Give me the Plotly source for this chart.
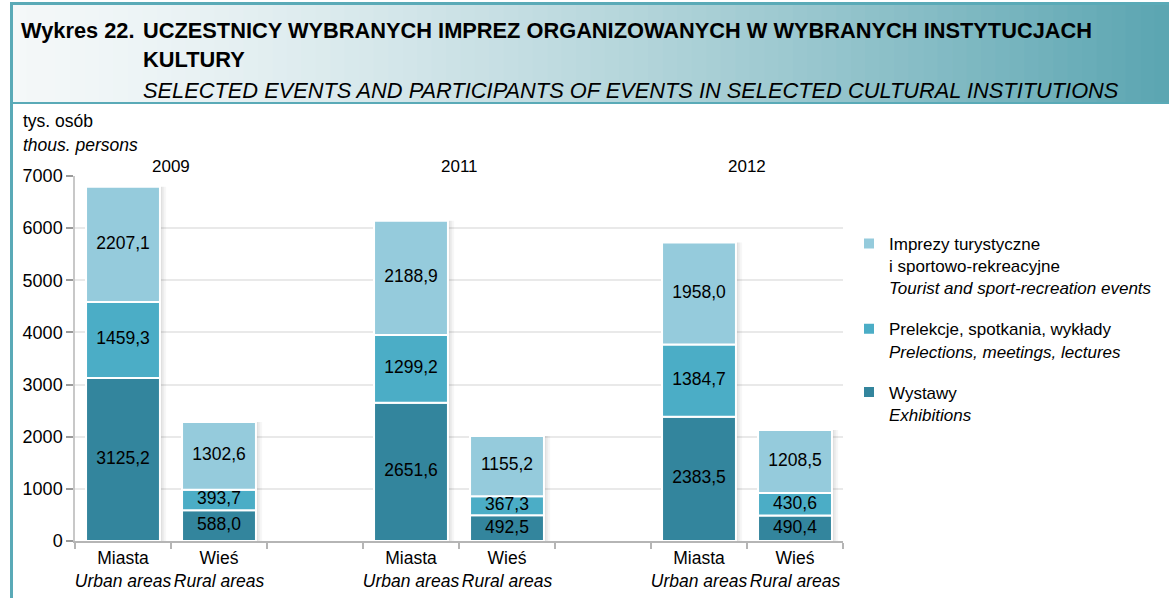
import numpy as np
import plotly.graph_objects as go

# ---- data ----
years = ["2009", "2011", "2012"]
areas = ["Miasta<br><i>Urban areas</i>", "Wieś<br><i>Rural areas</i>"]
wystawy = [3125.2, 588.0, 2651.6, 492.5, 2383.5, 490.4]        # Exhibitions
prelekcje = [1459.3, 393.7, 1299.2, 367.3, 1384.7, 430.6]      # Prelections, meetings, lectures
imprezy = [2207.1, 1302.6, 2188.9, 1155.2, 1958.0, 1208.5]     # Tourist and sport-recreation events
series_names = [
    "Wystawy<br><i>Exhibitions</i>",
    "Prelekcje, spotkania, wykłady<br><i>Prelections, meetings, lectures</i>",
    "Imprezy turystyczne<br>i sportowo-rekreacyjne<br><i>Tourist and sport-recreation events</i>",
]
colors = ["#33859d", "#4badc6", "#95cbdc"]
y_ticks = [0, 1000, 2000, 3000, 4000, 5000, 6000, 7000]

FONT = "Liberation Sans, Arial, Helvetica, sans-serif"

# positions: each year group has 2 bars plus one empty slot
xpos = [3 * g + a for g in range(len(years)) for a in range(len(areas))]
xlabels = [areas[a] for g in range(len(years)) for a in range(len(areas))]

series = [wystawy, prelekcje, imprezy]
arr = np.array(series)
bases = np.vstack([np.zeros(arr.shape[1]), np.cumsum(arr, axis=0)[:-1]])
totals = arr.sum(axis=0)

W = 0.77
fig = go.Figure()

# soft shadows
for k, (dx, alpha) in enumerate([(0.065, 0.03), (0.045, 0.04), (0.025, 0.05)]):
    fig.add_trace(go.Bar(x=xpos, y=totals, base=[0] * len(totals), width=W, offset=-W / 2 + dx,
                         marker=dict(color=f"rgba(0,0,0,{alpha})", line=dict(width=0)),
                         showlegend=False, hoverinfo="skip"))

for i, (vals, name, col) in enumerate(zip(series, series_names, colors)):
    fig.add_trace(go.Bar(x=xpos, y=vals, base=bases[i], width=W, offset=-W / 2, name=name,
                         legendgroup=f"g{i}", legendrank=10 - i,
                         marker=dict(color=col, line=dict(color="white", width=2))))

# value labels
lab_x, lab_y, lab_t = [], [], []
for i, vals in enumerate(series):
    for j, v in enumerate(vals):
        lab_x.append(xpos[j])
        lab_y.append(bases[i][j] + v / 2)
        lab_t.append(f"{v:.1f}".replace(".", ","))
fig.add_trace(go.Scatter(x=lab_x, y=lab_y, text=lab_t, mode="text", showlegend=False,
                         textfont=dict(size=17.5, color="black", family=FONT), cliponaxis=False,
                         hoverinfo="skip"))

L, R, T, B = 75, 326, 176, 57
PW, PH = 1169 - L - R, 598 - T - B


def px(x):
    return (x - L) / PW


def py(y):
    return (598 - B - y) / PH


shapes = []
# header gradient
n = 80
x0p, x1p = 12, 1169
c0 = np.array([244, 248, 249])
c1 = np.array([92, 166, 178])
for k in range(n):
    a = x0p + (x1p - x0p) * k / n
    b = x0p + (x1p - x0p) * (k + 1) / n
    t = k / (n - 1)
    c = c0 + (c1 - c0) * t ** 1.4
    shapes.append(dict(type="rect", xref="paper", yref="paper", x0=px(a), x1=px(b) + 0.001,
                       y0=py(103), y1=py(4), fillcolor=f"rgb({int(c[0])},{int(c[1])},{int(c[2])})",
                       line=dict(width=0), layer="below"))
border = "#5aaab7"
shapes.append(dict(type="line", xref="paper", yref="paper", x0=px(10), x1=px(1169), y0=py(3.5), y1=py(3.5),
                   line=dict(color=border, width=3)))
shapes.append(dict(type="line", xref="paper", yref="paper", x0=px(11.5), x1=px(11.5), y0=py(2), y1=py(598),
                   line=dict(color=border, width=3)))
shapes.append(dict(type="line", xref="paper", yref="paper", x0=px(10), x1=px(1169), y0=py(103), y1=py(103),
                   line=dict(color=border, width=2)))

TS = 21.8
ann = []
ann.append(dict(text="<b>Wykres 22.</b>", xref="paper", yref="paper", x=px(19), y=py(30), xanchor="left",
                yanchor="middle", showarrow=False, font=dict(size=TS, family=FONT, color="black")))
ann.append(dict(text="<b>UCZESTNICY WYBRANYCH IMPREZ ORGANIZOWANYCH W WYBRANYCH INSTYTUCJACH</b>",
                xref="paper", yref="paper", x=px(141), y=py(30), xanchor="left", yanchor="middle",
                showarrow=False, font=dict(size=TS, family=FONT, color="black")))
ann.append(dict(text="<b>KULTURY</b>", xref="paper", yref="paper", x=px(141), y=py(59), xanchor="left",
                yanchor="middle", showarrow=False, font=dict(size=TS, family=FONT, color="black")))
ann.append(dict(text="<i>SELECTED EVENTS AND PARTICIPANTS OF EVENTS IN SELECTED CULTURAL INSTITUTIONS</i>",
                xref="paper", yref="paper", x=px(141), y=py(90), xanchor="left", yanchor="middle",
                showarrow=False, font=dict(size=TS, family=FONT, color="black")))
ann.append(dict(text="tys. osób", xref="paper", yref="paper", x=px(21), y=py(121), xanchor="left",
                yanchor="middle", showarrow=False, font=dict(size=17.5, family=FONT, color="black")))
ann.append(dict(text="<i>thous. persons</i>", xref="paper", yref="paper", x=px(21), y=py(145), xanchor="left",
                yanchor="middle", showarrow=False, font=dict(size=17.5, family=FONT, color="black")))
for g, yr in enumerate(years):
    ann.append(dict(text=yr, x=3 * g + 0.5, y=7000, yshift=10, xref="x", yref="y", showarrow=False,
                    bgcolor="white", font=dict(size=17, family=FONT, color="black")))

fig.update_layout(
    width=1169, height=598, margin=dict(l=L, r=R, t=T, b=B, autoexpand=False),
    paper_bgcolor="white", plot_bgcolor="white", barmode="overlay",
    font=dict(family=FONT, size=17, color="black"),
    shapes=shapes, annotations=ann,
    legend=dict(x=px(849), y=py(226), xanchor="left", yanchor="top", traceorder="grouped",
                tracegroupgap=16, valign="top", font=dict(size=17, family=FONT, color="black"),
                bgcolor="rgba(0,0,0,0)"),
    xaxis=dict(range=[-0.5, 7.5], tickvals=xpos, ticktext=xlabels, ticks="", showgrid=False,
               showline=True, linecolor="#b5b5b5", linewidth=1.5, zeroline=False, fixedrange=True,
               tickfont=dict(size=17.5, family=FONT, color="black"),
               minor=dict(tickmode="linear", tick0=-0.5, dtick=1, ticks="outside", ticklen=6,
                          tickcolor="#b5b5b5", tickwidth=1.5, showgrid=False)),
    yaxis=dict(range=[0, 7000], tickvals=y_ticks, ticks="outside", ticklen=7, tickcolor="#9a9a9a",
               tickwidth=1.5, showline=True, linecolor="#c8c8c8", linewidth=1.5, showgrid=True,
               gridcolor="#e9e9e9", gridwidth=2, zeroline=False, fixedrange=True,
               tickfont=dict(size=18, family=FONT, color="black")),
)

fig.write_html("out.html", config={"displayModeBar": False},
               post_script="document.body.style.margin='0';document.body.style.padding='0';")
